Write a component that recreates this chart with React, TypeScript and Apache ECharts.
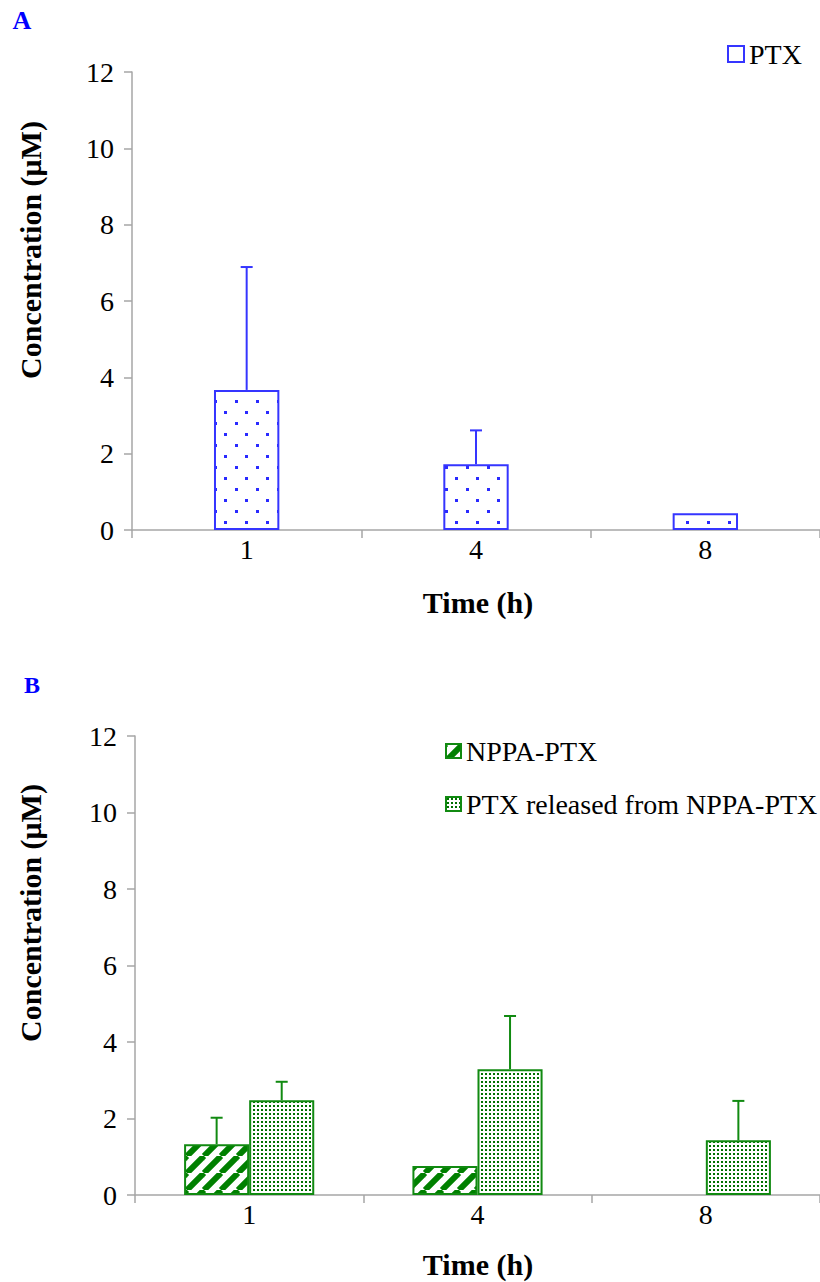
import { useEffect, useRef } from 'react';
import * as echarts from 'echarts';

const categories = ['1', '4', '8'];
const ptxMean = [3.67, 1.72, 0.44];
const ptxSd = [3.22, 0.89, 0];
const nppaMean = [1.33, 0.76, 0];
const nppaSd = [0.69, 0, 0];
const releasedMean = [2.48, 3.29, 1.43];
const releasedSd = [0.48, 1.39, 1.03];
const yMin = 0;
const yMax = 12;
const yInterval = 2;
const legendA = ['PTX'];
const legendB = ['NPPA-PTX', 'PTX released from NPPA-PTX'];

const FONT = '"Liberation Serif", "Times New Roman", serif';
const BLUE = '#3535ff';
const GREEN = '#118a11';
const AXIS = '#a6a6a6';
const BAR_FRAC = 0.285;

function makeTile(w: number, h: number, draw: (ctx: CanvasRenderingContext2D) => void) {
  const c = document.createElement('canvas');
  c.width = w;
  c.height = h;
  const ctx = c.getContext('2d') as CanvasRenderingContext2D;
  draw(ctx);
  return { image: c, repeat: 'repeat' };
}

function errorSeries(means: number[], sds: number[], axisIndex: number, color: string, sign: number) {
  const data = means
    .map((m, i) => [i, m, m + sds[i], sds[i]])
    .filter((d) => d[3] > 0);
  return {
    type: 'custom',
    xAxisIndex: axisIndex,
    yAxisIndex: axisIndex,
    z: 5,
    silent: true,
    data,
    encode: { x: 0, y: [1, 2] },
    renderItem: (_params: any, api: any) => {
      const band = api.size([1, 0])[0];
      const off = (sign * band * BAR_FRAC) / 2;
      const p0 = api.coord([api.value(0), api.value(1)]);
      const p1 = api.coord([api.value(0), api.value(2)]);
      const x = p0[0] + off;
      return {
        type: 'group',
        children: [
          { type: 'line', shape: { x1: x, y1: p0[1], x2: x, y2: p1[1] }, style: { stroke: color, lineWidth: 2 } },
          { type: 'line', shape: { x1: x - 6, y1: p1[1], x2: x + 6, y2: p1[1] }, style: { stroke: color, lineWidth: 2 } },
        ],
      };
    },
  };
}

export default function App() {
  const ref = useRef<HTMLDivElement>(null);
  useEffect(() => {
    if (!ref.current) return;
    const chart = echarts.init(ref.current, null, { renderer: 'svg' });

    const dotsBlue = makeTile(21, 22, (ctx) => {
      ctx.fillStyle = '#2a2aff';
      ctx.fillRect(4, 4, 3, 3);
      ctx.fillRect(14, 15, 3, 3);
    });
    const hatch = makeTile(17, 17, (ctx) => {
      ctx.strokeStyle = '#008000';
      ctx.lineWidth = 6;
      for (let k = -1; k <= 1; k++) {
        ctx.beginPath();
        ctx.moveTo(k * 17, 17);
        ctx.lineTo(k * 17 + 17, 0);
        ctx.stroke();
      }
    });
    const dotsGreen = makeTile(4, 4, (ctx) => {
      ctx.fillStyle = '#007000';
      ctx.fillRect(1, 1, 2, 2);
    });

    const axisCommon = {
      axisLine: { show: true, lineStyle: { color: AXIS, width: 1.5 } },
      axisTick: { show: true, length: 8, lineStyle: { color: AXIS, width: 1.5 } },
      splitLine: { show: false },
    };
    const yAxis = (gridIndex: number) => ({
      type: 'value',
      gridIndex,
      min: yMin,
      max: yMax,
      interval: yInterval,
      ...axisCommon,
      axisLabel: { color: '#000', fontSize: 28, fontFamily: FONT, margin: 18 },
    });
    const xAxis = (gridIndex: number) => ({
      type: 'category',
      gridIndex,
      data: categories,
      ...axisCommon,
      axisLabel: { color: '#000', fontSize: 28, fontFamily: FONT, margin: 5 },
    });

    const titleStyle = { fill: '#000', font: `bold 30px ${FONT}`, textAlign: 'center', textVerticalAlign: 'middle' };

    chart.setOption({
      animation: false,
      backgroundColor: '#fff',
      grid: [
        { left: 132, top: 72, width: 692, height: 458 },
        { left: 135, top: 736, width: 686, height: 459 },
      ],
      xAxis: [xAxis(0), xAxis(1)],
      yAxis: [yAxis(0), yAxis(1)],
      legend: [
        {
          data: [{ name: legendA[0], icon: 'rect', itemStyle: { color: '#fff', borderColor: BLUE, borderWidth: 2 } }],
          left: 722,
          top: 35,
          itemWidth: 16,
          itemHeight: 16,
          itemGap: 10,
          textStyle: { fontSize: 28, fontFamily: FONT, color: '#000' },
        },
        {
          data: legendB.map((n) => ({ name: n, icon: 'rect' })),
          orient: 'vertical',
          left: 440,
          top: 731,
          itemWidth: 15,
          itemHeight: 14,
          itemGap: 23,
          textStyle: { fontSize: 28, fontFamily: FONT, color: '#000', lineHeight: 30 },
        },
      ],
      series: [
        {
          name: legendA[0],
          type: 'bar',
          xAxisIndex: 0,
          yAxisIndex: 0,
          barWidth: `${BAR_FRAC * 100}%`,
          data: ptxMean,
          itemStyle: { color: dotsBlue, borderColor: BLUE, borderWidth: 2 },
        },
        errorSeries(ptxMean, ptxSd, 0, BLUE, 0),
        {
          name: legendB[0],
          type: 'bar',
          xAxisIndex: 1,
          yAxisIndex: 1,
          barWidth: `${BAR_FRAC * 100}%`,
          barGap: '0%',
          data: nppaMean.map((v) => (v > 0 ? v : '-')),
          itemStyle: { color: hatch, borderColor: GREEN, borderWidth: 2 },
        },
        {
          name: legendB[1],
          type: 'bar',
          xAxisIndex: 1,
          yAxisIndex: 1,
          barWidth: `${BAR_FRAC * 100}%`,
          barGap: '0%',
          data: releasedMean,
          itemStyle: { color: dotsGreen, borderColor: GREEN, borderWidth: 2 },
        },
        errorSeries(nppaMean, nppaSd, 1, GREEN, -1),
        errorSeries(releasedMean, releasedSd, 1, GREEN, 1),
      ],
      graphic: [
        { type: 'text', x: 22, y: 20, style: { text: 'A', fill: '#0000ff', font: `bold 26px ${FONT}`, textAlign: 'center', textVerticalAlign: 'middle' } },
        { type: 'text', x: 32, y: 685, style: { text: 'B', fill: '#0000ff', font: `bold 24px ${FONT}`, textAlign: 'center', textVerticalAlign: 'middle' } },
        { type: 'text', x: 30, y: 250, rotation: Math.PI / 2, style: { text: 'Concentration (μM)', ...titleStyle } },
        { type: 'text', x: 30, y: 913, rotation: Math.PI / 2, style: { text: 'Concentration (μM)', ...titleStyle } },
        { type: 'text', x: 478, y: 602, style: { text: 'Time (h)', ...titleStyle } },
        { type: 'text', x: 478, y: 1264, style: { text: 'Time (h)', ...titleStyle } },
      ],
    });
    return () => chart.dispose();
  }, []);
  return <div ref={ref} style={{ position: 'absolute', left: 0, top: 0, width: 820, height: 1282 }} />;
}
